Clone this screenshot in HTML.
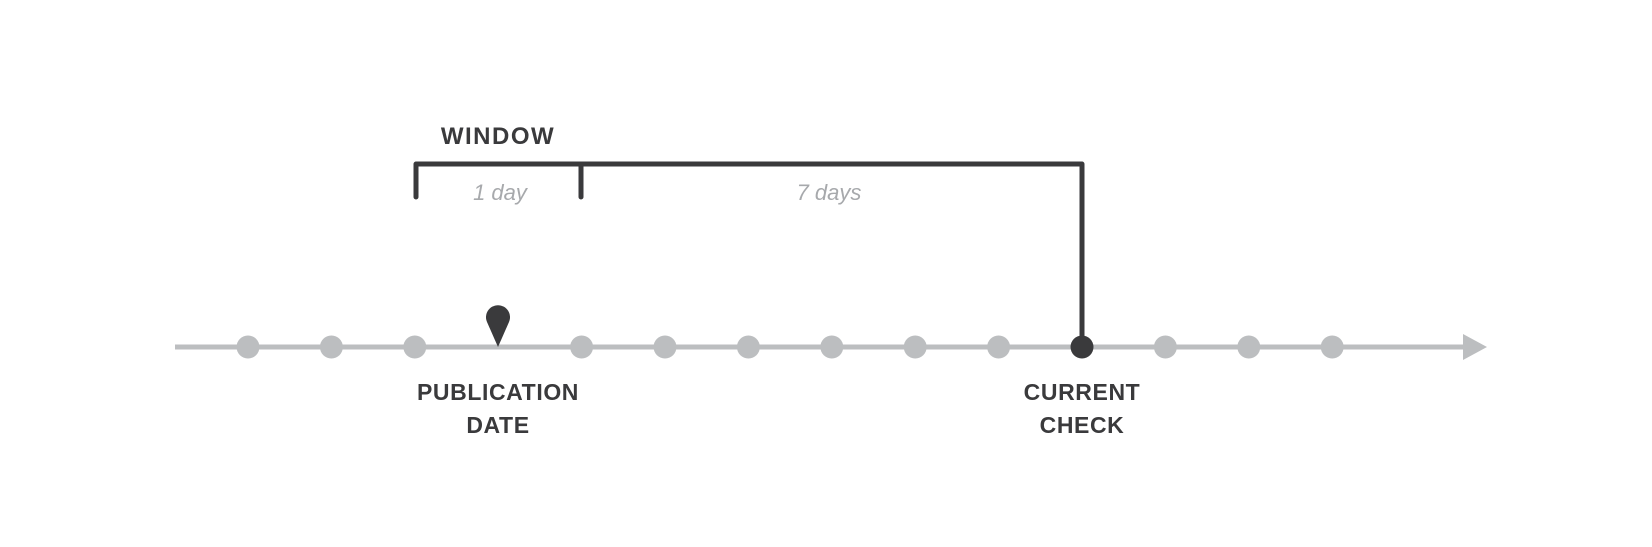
<!DOCTYPE html>
<html><head><meta charset="utf-8"><style>
html,body{margin:0;padding:0;background:#fff;}
svg{display:block;}
text{font-family:"Liberation Sans",sans-serif;}
</style></head><body>
<svg id="chart" width="1652" height="547" viewBox="0 0 1652 547">
  <line x1="175" y1="347" x2="1466" y2="347" stroke="#bcbec0" stroke-width="5"/>
  <polygon points="1463,334 1487,347 1463,360" fill="#bcbec0"/>
  <g id="dots"></g>
  <path d="M416,197 L416,164 L1082,164 L1082,347 M581,164 L581,197" fill="none" stroke="#3a3a3c" stroke-width="5" stroke-linecap="round" stroke-linejoin="round"/>
  <text x="498" y="144" text-anchor="middle" font-size="24" font-weight="bold" letter-spacing="1.5" fill="#3a3a3c">WINDOW</text>
  <text x="500" y="200" text-anchor="middle" font-size="22" font-style="italic" fill="#a7a9ac">1 day</text>
  <text x="829" y="200" text-anchor="middle" font-size="22" font-style="italic" fill="#a7a9ac">7 days</text>
  <path d="M498,347 L487,322 A12,12 0 1 1 509,322 Z" fill="#3a3a3c"/>
  <circle cx="1082" cy="347" r="11.5" fill="#3a3a3c"/>
  <text x="498" y="400" text-anchor="middle" font-size="23" font-weight="bold" letter-spacing="0.6" fill="#3a3a3c"><tspan x="498">PUBLICATION</tspan><tspan x="498" y="433">DATE</tspan></text>
  <text x="1082" y="400" text-anchor="middle" font-size="23" font-weight="bold" letter-spacing="0.6" fill="#3a3a3c"><tspan x="1082">CURRENT</tspan><tspan x="1082" y="433">CHECK</tspan></text>
</svg>
<script>
const dayIndices = [0,1,2,4,5,6,7,8,9,11,12,13];
const x0 = 248, step = 83.4;
const g = document.getElementById('dots');
dayIndices.forEach(function(d){
  const c = document.createElementNS('http://www.w3.org/2000/svg','circle');
  c.setAttribute('cx', x0 + d*step);
  c.setAttribute('cy', 347);
  c.setAttribute('r', 11.5);
  c.setAttribute('fill', '#bcbec0');
  
  
  g.appendChild(c);
});
</script>
</body></html>
